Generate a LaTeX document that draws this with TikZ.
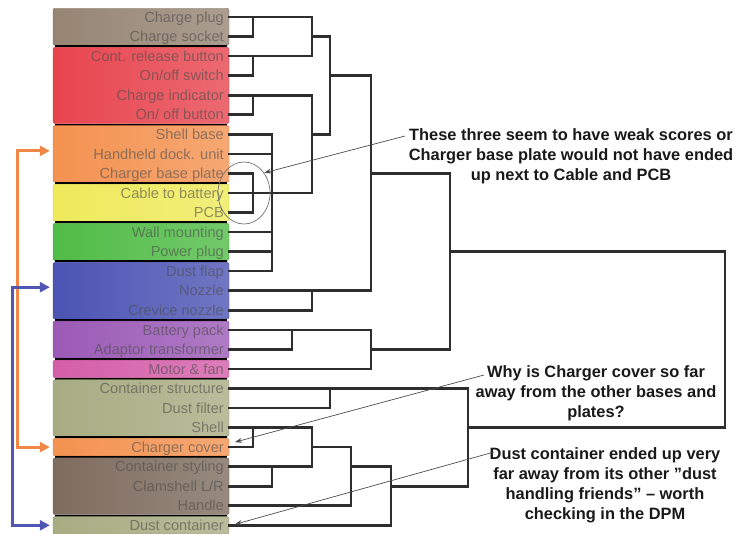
\documentclass[tikz,border=0pt]{standalone}
\usepackage{fontspec}
\setmainfont{Liberation Sans}
\usetikzlibrary{shapes.geometric,arrows.meta,positioning}
\definecolor{BoxTaupe}{RGB}{150,133,115}
\definecolor{BoxRed}{RGB}{232,68,78}
\definecolor{BoxOrange}{RGB}{244,146,80}
\definecolor{BoxYellow}{RGB}{238,234,90}
\definecolor{BoxGreen}{RGB}{80,188,70}
\definecolor{BoxBlue}{RGB}{76,84,180}
\definecolor{BoxPurple}{RGB}{155,90,182}
\definecolor{BoxPink}{RGB}{212,94,168}
\definecolor{BoxOlive}{RGB}{168,172,130}
\definecolor{BoxBrown}{RGB}{126,108,94}
\definecolor{MarkOrange}{RGB}{240,135,70}
\definecolor{MarkBlue}{RGB}{80,86,180}
\tikzset{
  groupbox/.style={rectangle, rounded corners=2pt, minimum width=176pt, inner sep=0pt},
  leaf/.style={anchor=east, inner xsep=5pt, inner ysep=0pt, text height=11pt, text depth=0.6pt,
    font=\fontsize{14.6}{16}\selectfont, text=black!70, text opacity=0.6},
  tree/.style={line width=2.6pt, draw=black!82, line cap=rect},
  note/.style={align=center, font=\bfseries\fontsize{16.4}{20}\selectfont, text=black!90, inner sep=0pt},
  notearrow/.style={draw=black!70, line width=0.7pt, -{Stealth[length=7pt,width=5pt]}},
  markarrow/.style={line width=3pt, {Triangle[length=10pt,width=10pt]}-{Triangle[length=10pt,width=10pt]},
    shorten <=3pt, shorten >=3pt}
}

\begin{document}
\begin{tikzpicture}[x=1pt,y=-1pt]
  \useasboundingbox (0,0) rectangle (735,533);
  % coloured groups
  \foreach \first/\last/\col in {0/1/BoxTaupe, 2/5/BoxRed, 6/8/BoxOrange, 9/10/BoxYellow, 11/12/BoxGreen,
      13/15/BoxBlue, 16/17/BoxPurple, 18/18/BoxPink, 19/21/BoxOlive, 22/22/BoxOrange, 23/25/BoxBrown, 26/26/BoxOlive} {
    \pgfmathsetmacro\ymid{17+19.55*(\first+\last)/2}
    \pgfmathsetmacro\hgt{19.55*(\last-\first)+17.5}
    \ifnum\first>0
      \draw[line width=2pt] (55,{17+19.55*\first-9.8}) -- (227,{17+19.55*\first-9.8});
    \fi
    \node[groupbox, minimum height=\hgt pt, left color=\col, right color=\col!80!white, draw=\col!85!black] (g\first) at (141,\ymid) {};
  }

  % components
  \foreach \name [count=\i from 0] in {Charge plug, Charge socket, Cont. release button, On/off switch,
      Charge indicator, On/ off button, Shell base, Handheld dock. unit, Charger base plate, Cable to battery,
      PCB, Wall mounting, Power plug, Dust flap, Nozzle, Crevice nozzle, Battery pack, Adaptor transformer,
      Motor \& fan, Container structure, Dust filter, Shell, Charger cover, Container styling, Clamshell L/R,
      Handle, Dust container}
    \node[leaf] (l\i) at (229,{17+19.55*\i}) {\name};

  % dendrogram
  \foreach \i/\xe in {0/312, 1/253, 2/312, 3/253, 4/312, 5/253, 6/272, 7/272, 8/253, 9/312, 10/253, 11/272,
      12/272, 13/272, 14/371, 15/312, 16/371, 17/292, 18/371, 19/468, 20/330, 21/312, 22/253, 23/312,
      24/272, 25/351, 26/391}
    \draw[tree] (l\i.east) -- (\xe,0 |- l\i.east);
  \foreach \x/\a/\b in {253/0/1, 253/2/3, 253/4/5, 253/8/10, 253/21/22, 272/6/13, 272/23/24, 292/16/17,
      312/0/2, 312/4/9, 312/14/15, 312/21/23, 330/1/6, 330/19/20, 351/22/25, 371/3/14, 371/16/18,
      391/23/26, 450/8/17, 468/19/24, 725/12/21}
    \draw[tree] (\x,0 |- l\a.east) -- (\x,0 |- l\b.east);
  \foreach \r/\xa/\xb in {1/312/330, 6/312/330, 3/330/371, 8/371/450, 17/371/450, 12/450/725,
      22/312/351, 23/351/391, 24/391/468, 21/468/725}
    \draw[tree] (\xa,0 |- l\r.east) -- (\xb,0 |- l\r.east);

  % remarks
  \node[ellipse, draw=black!55, line width=0.7pt, minimum width=52pt, minimum height=62pt, inner sep=0pt] (ring) at (244,193) {};
  \node[note] (note1) at (571,156) {These three seem to have weak scores or\\Charger base plate would not have ended\\up next to Cable and PCB};
  \node[note] (note2) at (596,393) {Why is Charger cover so far\\away from the other bases and\\plates?};
  \node[note] (note3) at (605,485) {Dust container ended up very\\far away from its other ”dust\\handling friends” – worth\\checking in the DPM};
  \coordinate (from1) at (405,136);
  \coordinate (from2) at (484,375);
  \coordinate (from3) at (494,452);
  \draw[notearrow] (from1) -- (ring.45);
  \draw[notearrow] (from2) -- ([shift={(6,-5)}]l22.east);
  \draw[notearrow] (from3) -- ([shift={(6,-1)}]l26.east);

  \draw[markarrow, MarkOrange] ([yshift=3pt]g6.west) -- ++(-35,0) |- (g22.west);
  \draw[markarrow, MarkBlue] ([yshift=3.5pt]g13.west) -- ++(-40,0) |- (g26.west);
\end{tikzpicture}
\end{document}
